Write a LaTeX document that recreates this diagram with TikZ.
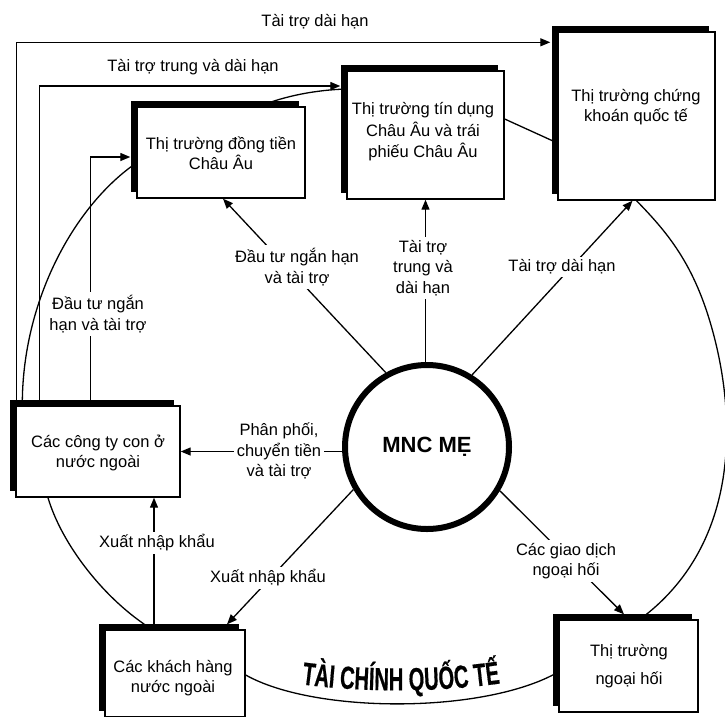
\documentclass[tikz,border=0pt]{standalone}
\usepackage{fontspec}
\setmainfont{Liberation Sans}
\newfontfamily\archfont{Liberation Sans Bold}[FakeStretch=0.63,FakeBold=0.4]
\usetikzlibrary{arrows.meta,shadows,decorations.text,backgrounds}

\begin{document}
\begin{tikzpicture}[x=1pt,y=-1pt,
  box/.style={draw=black, line width=1.4pt, fill=white, inner sep=0pt,
    general shadow={fill=black, shadow xshift=-6pt, shadow yshift=6pt}},
  txt/.style={align=center, font=\fontsize{16.5}{20.5}\selectfont, inner sep=1pt},
  lbl/.style={txt, fill=white, inner sep=3pt},
  conn/.style={line width=1.3pt},
  arr/.style={conn, -{Triangle[length=10pt,width=8pt]}},
  loop/.style={line width=1.3pt},
]
\useasboundingbox (0,0) rectangle (725,716);

% market boxes
\node[box, minimum width=168pt, minimum height=91pt]  (b1) at (221,152.5) {};
\node[box, minimum width=157pt, minimum height=128pt] (b2) at (425.5,135) {};
\node[box, minimum width=157pt, minimum height=168pt] (b3) at (636.5,116) {};
\node[box, minimum width=164pt, minimum height=91pt]  (b4) at (98,451.5) {};
\node[box, minimum width=140pt, minimum height=87pt]  (b5) at (175,673.5) {};
\node[box, minimum width=139pt, minimum height=92pt]  (b6) at (628.5,666) {};

% the ring that joins the markets, kept behind the boxes
\begin{scope}[on background layer]
\draw[loop] ([xshift=7pt]b4.north west) .. controls (22,300) and (75,205) .. ([yshift=-10.5pt]b1.west);
\draw[loop] ([xshift=123pt]b1.north west) .. controls (285,96) and (315,90) .. ([yshift=46pt]b2.west);
\draw[loop] ([yshift=16pt]b2.east) .. controls (520,126) and (540,135) .. ([yshift=-27pt]b3.west);
\draw[loop] (b3.south) .. controls (670,235) and (697,268) .. (715,340)
  .. controls (735,420) and (740,545) .. ([xshift=11.5pt]b6.north);
\draw[loop] ([yshift=-6pt]b6.west) .. controls (485,714) and (315,714) .. ([yshift=-1.5pt]b5.east);
\draw[loop] ([xshift=-50pt]b4.south) .. controls (62,545) and (105,600) .. ([xshift=-23pt]b5.north);
\end{scope}

% box texts
\node[txt] (t1) at (221,153) {Thị trường đồng tiền\\Châu Âu};
\node[txt, font=\fontsize{16.5}{21.5}\selectfont] (t2) at (423,132) {Thị trường tín dụng\\Châu Âu và trái\\phiếu Châu Âu};
\node[txt] (t3) at (636,107) {Thị trường chứng\\khoán quốc tế};
\node[txt] (t4) at (98,453) {Các công ty con ở\\nước ngoài};
\node[txt] (t5) at (173,678) {Các khách hàng\\nước ngoài};
\node[txt] (t6) at (629,666) {Thị trường\\[7pt]ngoại hối};

% parent company
\node[circle, draw, line width=6pt, minimum size=164pt, inner sep=0pt, fill=white,
      font=\bfseries\fontsize{22}{22}\selectfont] (mnc) at (427,447) {MNC MẸ};

% flows from the subsidiaries
\draw[arr] ([xshift=1pt]b4.north west) |- ([xshift=-7pt,yshift=-11pt]b3.north west);
\draw[arr] ([xshift=24pt]b4.north west) |- ([xshift=-6pt,yshift=49pt]b2.west);
\draw[arr] ([xshift=75pt]b4.north west) |- ([xshift=-6pt,yshift=-4.5pt]b1.west);

% flows from the parent
\draw[arr] (mnc.119) -- ([xshift=2pt]b1.south);
\draw[arr] (mnc.north -| b2.south) -- (b2.south);
\draw[arr] (mnc.58) -- ([xshift=-4pt]b3.south);
\draw[arr] (b4.east -| mnc.west) -- (b4.east);
\draw[arr] (mnc.210) -- ([xshift=52pt,yshift=5pt]b5.north);
\draw[arr] (mnc.329) -- ([xshift=-4.5pt,yshift=5pt]b6.north);
\draw[arr] ([xshift=-21pt,yshift=5pt]b5.north) -- ([xshift=-21pt]b5.north |- b4.south);

% flow labels
\node[txt] (lTop) at (315,22) {Tài trợ dài hạn};
\node[txt] (lMid) at (193,67) {Tài trợ trung và dài hạn};
\node[lbl] (lShort) at (98,314) {Đầu tư ngắn\\hạn và tài trợ};
\node[lbl] (lC1) at (297,267) {Đầu tư ngắn hạn\\và tài trợ};
\node[lbl] (lC2) at (423,268) {Tài trợ\\trung và\\dài hạn};
\node[lbl] (lC3) at (562,267) {Tài trợ dài hạn};
\node[lbl] (lC4) at (279,451) {Phân phối,\\chuyển tiền\\và tài trợ};
\node[lbl] (lC5) at (268,578) {Xuất nhập khẩu};
\node[lbl] (lC6) at (566,561) {Các giao dịch\\ngoại hối};
\node[lbl] (lB) at (157,543) {Xuất nhập khẩu};

% arched title
\path[decorate, decoration={text along path, text align=center,
  text={|\archfont\fontsize{32}{32}\selectfont|TÀI CHÍNH QUỐC TẾ}}]
  (292,683) .. controls (360,693) and (440,693) .. (510,682);
\end{tikzpicture}
\end{document}
